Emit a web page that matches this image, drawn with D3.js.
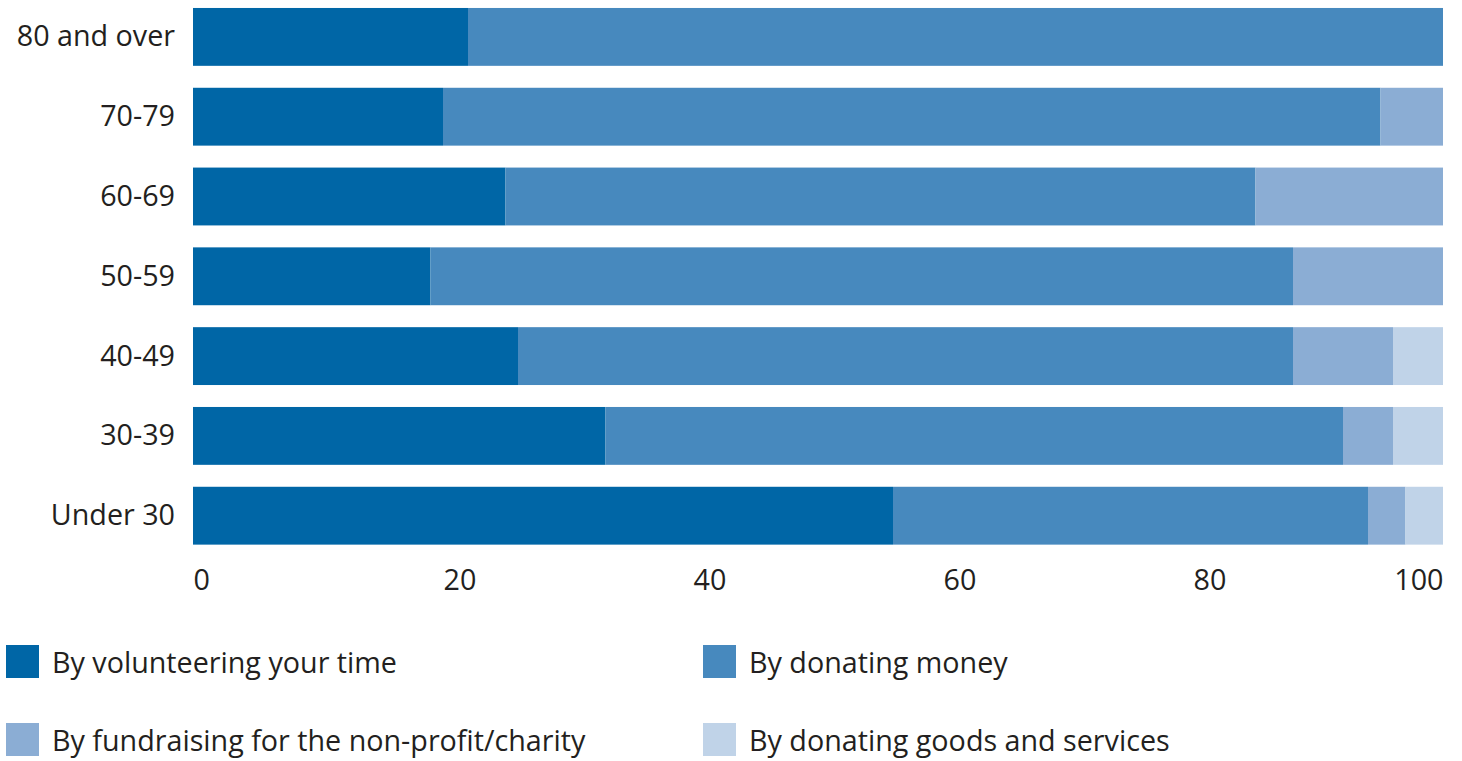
<!DOCTYPE html>
<html>
<head>
<meta charset="utf-8">
<script src="https://cdn.jsdelivr.net/npm/d3@7"></script>
<style>
  html, body { margin: 0; padding: 0; background: #fff; }
  svg text { font-family: "Open Sans", "Noto Sans", sans-serif; fill: #231f20; }
</style>
</head>
<body>
<svg id="chart" width="1462" height="761"></svg>
<script>
// Age groups, top to bottom
const ageGroups = ["80 and over", "70-79", "60-69", "50-59", "40-49", "30-39", "Under 30"];

// Share of respondents (%) by way of supporting a non-profit/charity
const volunteering = [22, 20, 25, 19, 26, 33, 56];
const donatingMoney = [78, 75, 60, 69, 62, 59, 38];
const fundraising  = [0, 5, 15, 12, 8, 4, 3];
const donatingGoods = [0, 0, 0, 0, 4, 4, 3];

const seriesNames = [
  "By volunteering your time",
  "By donating money",
  "By fundraising for the non-profit/charity",
  "By donating goods and services"
];
const seriesColors = ["#0066a6", "#4789be", "#8badd4", "#c0d3e8"];

const xTicks = [0, 20, 40, 60, 80, 100];

const fontSize = 28.7;

const rows = ageGroups.map((g, i) => ({
  group: g,
  s0: volunteering[i],
  s1: donatingMoney[i],
  s2: fundraising[i],
  s3: donatingGoods[i]
}));

const keys = ["s0", "s1", "s2", "s3"];
const stacked = d3.stack().keys(keys)(rows);

const svg = d3.select("#chart");
const margin = { left: 193, right: 19, top: 8 };
const width = 1462 - margin.left - margin.right;

const x = d3.scaleLinear().domain([0, 100]).range([margin.left, margin.left + width]);
const y = d3.scaleBand()
  .domain(ageGroups)
  .range([margin.top - 11, margin.top - 11 + 79.8 * ageGroups.length])
  .paddingInner(22 / 80)
  .paddingOuter(11 / 80);

// Bars
svg.append("g").selectAll("g")
  .data(stacked)
  .join("g")
  .attr("fill", (d, i) => seriesColors[i])
  .selectAll("rect")
  .data(d => d)
  .join("rect")
  .attr("x", d => x(d[0]))
  .attr("width", d => x(d[1]) - x(d[0]))
  .attr("y", d => y(d.data.group))
  .attr("height", y.bandwidth());

// Category labels
svg.append("g").selectAll("text")
  .data(ageGroups)
  .join("text")
  .attr("x", 175)
  .attr("y", d => y(d) + y.bandwidth() / 2 + 9.5)
  .attr("text-anchor", "end")
  .attr("font-size", fontSize)
  .text(d => d);

// X axis tick labels
const xAxis = d3.axisBottom(x).tickValues(xTicks).tickSize(0).tickPadding(0).tickFormat(d3.format("d"));
const axisG = svg.append("g").attr("transform", "translate(0,590)").call(xAxis);
axisG.select(".domain").remove();
axisG.selectAll("text")
  .attr("font-size", fontSize)
  .attr("dy", null)
  .attr("y", 0)
  .attr("fill", "#231f20")
  .attr("font-family", "'Open Sans', 'Noto Sans', sans-serif")
  .attr("text-anchor", (d, i) => i === xTicks.length - 1 ? "end" : "start");

// Legend
const legendPos = [[6, 645], [703, 645], [6, 723], [703, 723]];
const legend = svg.append("g").selectAll("g")
  .data(seriesNames)
  .join("g")
  .attr("transform", (d, i) => `translate(${legendPos[i][0]},${legendPos[i][1]})`);
legend.append("rect")
  .attr("width", 33)
  .attr("height", 33)
  .attr("fill", (d, i) => seriesColors[i]);
legend.append("text")
  .attr("x", 46)
  .attr("y", 28)
  .attr("font-size", fontSize)
  .text(d => d);
</script>
</body>
</html>
